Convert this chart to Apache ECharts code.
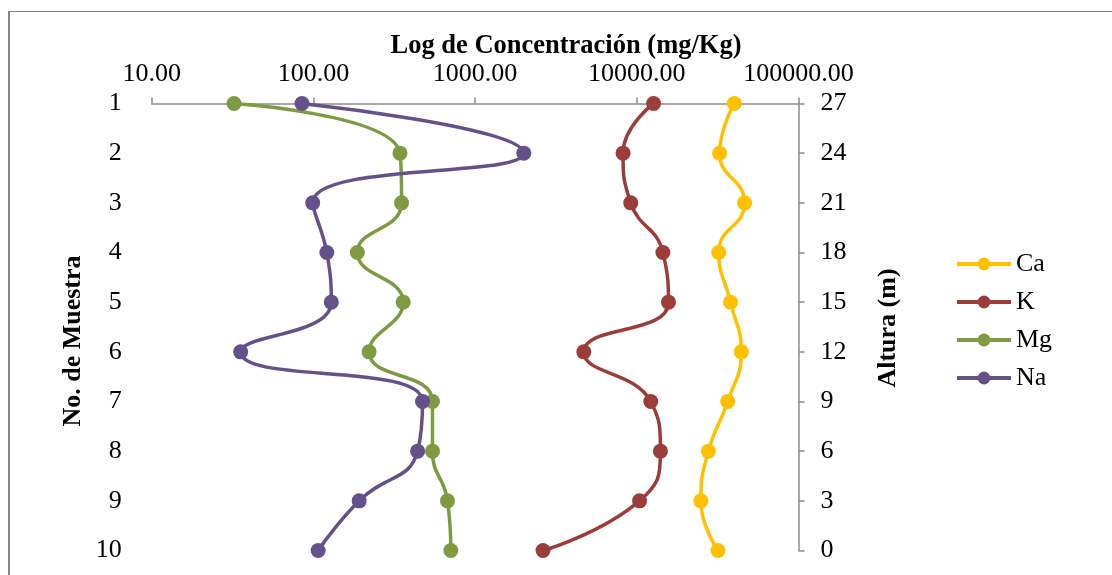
<!DOCTYPE html>
<html>
<head>
<meta charset="utf-8">
<script src="https://cdn.jsdelivr.net/npm/echarts@6/dist/echarts.min.js"></script>
<style>
  html, body { margin: 0; padding: 0; background: #fff; }
  #chart { width: 1112px; height: 575px; }
</style>
</head>
<body>
<div id="chart"></div>
<script>
// Sample numbers (left axis) and the matching height in metres (right axis)
const muestras = [1, 2, 3, 4, 5, 6, 7, 8, 9, 10];
const alturaMin = 0;
const alturaMax = 27;
const alturaPaso = 3;

// Concentrations in mg/Kg for each sample, top to bottom
const ca = [40100, 32500, 46400, 32100, 38000, 44300, 36500, 27700, 24900, 31800];
const k  = [12700, 8220, 9170, 14500, 15700, 4700, 12200, 14000, 10400, 2630];
const mg = [32.3, 343, 351, 187, 359, 221, 545, 545, 675, 708];
const na = [85, 2000, 99, 121, 129, 35.5, 473, 441, 192, 107];

const FONT = 'Liberation Serif';

function pairs(values) {
  return values.map((v, i) => [v, muestras[i]]);
}

function lineSeries(name, values, color) {
  return {
    name: name,
    type: 'line',
    data: pairs(values),
    smooth: 0.5,
    symbol: 'circle',
    symbolSize: 15,
    yAxisIndex: 0,
    lineStyle: { color: color, width: 3.5 },
    itemStyle: { color: color },
    emphasis: { disabled: true }
  };
}

const chart = echarts.init(document.getElementById('chart'));

chart.setOption({
  animation: false,
  backgroundColor: '#ffffff',
  textStyle: { fontFamily: FONT, color: '#000' },
  grid: { left: 151.7, right: 313.5, top: 103.5, bottom: 24.5, containLabel: false },
  xAxis: {
    type: 'log',
    logBase: 10,
    position: 'top',
    min: 10,
    max: 100000,
    axisLine: { show: true, onZero: false, lineStyle: { color: '#8c8c8c', width: 1.5 } },
    axisTick: { show: true, inside: false, length: 6, lineStyle: { color: '#8c8c8c', width: 1.5 } },
    minorTick: { show: false },
    splitLine: { show: false },
    axisLabel: {
      margin: 16,
      fontFamily: FONT,
      fontSize: 26,
      color: '#000',
      formatter: v => Number(v).toFixed(2)
    }
  },
  yAxis: [
    {
      type: 'value',
      inverse: true,
      min: 1,
      max: 10,
      interval: 1,
      position: 'left',
      axisLine: { show: false, onZero: false },
      axisTick: { show: false },
      splitLine: { show: false },
      axisLabel: { margin: 30, fontFamily: FONT, fontSize: 26, color: '#000' }
    },
    {
      type: 'value',
      min: alturaMin,
      max: alturaMax,
      interval: alturaPaso,
      position: 'right',
      axisLine: { show: true, onZero: false, lineStyle: { color: '#8c8c8c', width: 1.5 } },
      axisTick: { show: true, inside: false, length: 6, lineStyle: { color: '#8c8c8c', width: 1.5 } },
      splitLine: { show: false },
      axisLabel: { margin: 22, fontFamily: FONT, fontSize: 26, color: '#000' }
    }
  ],
  legend: {
    orient: 'vertical',
    left: 955,
    top: 251,
    padding: 0,
    itemWidth: 54,
    itemHeight: 16,
    itemGap: 12,
    lineStyle: { width: 4 },
    textStyle: { fontFamily: FONT, fontSize: 26, color: '#000' },
    data: ['Ca', 'K', 'Mg', 'Na']
  },
  series: [
    lineSeries('Ca', ca, '#FFC000'),
    lineSeries('K', k, '#9B3E3B'),
    lineSeries('Mg', mg, '#7E9B43'),
    lineSeries('Na', na, '#65518A')
  ],
  graphic: [
    // chart frame (left and top edges)
    { type: 'line', shape: { x1: 9, y1: 11, x2: 9, y2: 575 }, style: { stroke: '#868686', lineWidth: 2 }, silent: true },
    { type: 'line', shape: { x1: 8, y1: 11.5, x2: 1112, y2: 11.5 }, style: { stroke: '#868686', lineWidth: 1 }, silent: true },
    {
      type: 'text', x: 566, y: 46,
      style: { text: 'Log de Concentración (mg/Kg)', font: 'bold 26.5px "Liberation Serif"', fill: '#000', align: 'center', verticalAlign: 'middle' }
    },
    {
      type: 'text', x: 73, y: 341, rotation: Math.PI / 2,
      style: { text: 'No. de Muestra', font: 'bold 26px "Liberation Serif"', fill: '#000', align: 'center', verticalAlign: 'middle' }
    },
    {
      type: 'text', x: 888, y: 328, rotation: Math.PI / 2,
      style: { text: 'Altura (m)', font: 'bold 26px "Liberation Serif"', fill: '#000', align: 'center', verticalAlign: 'middle' }
    }
  ]
});
</script>
</body>
</html>
